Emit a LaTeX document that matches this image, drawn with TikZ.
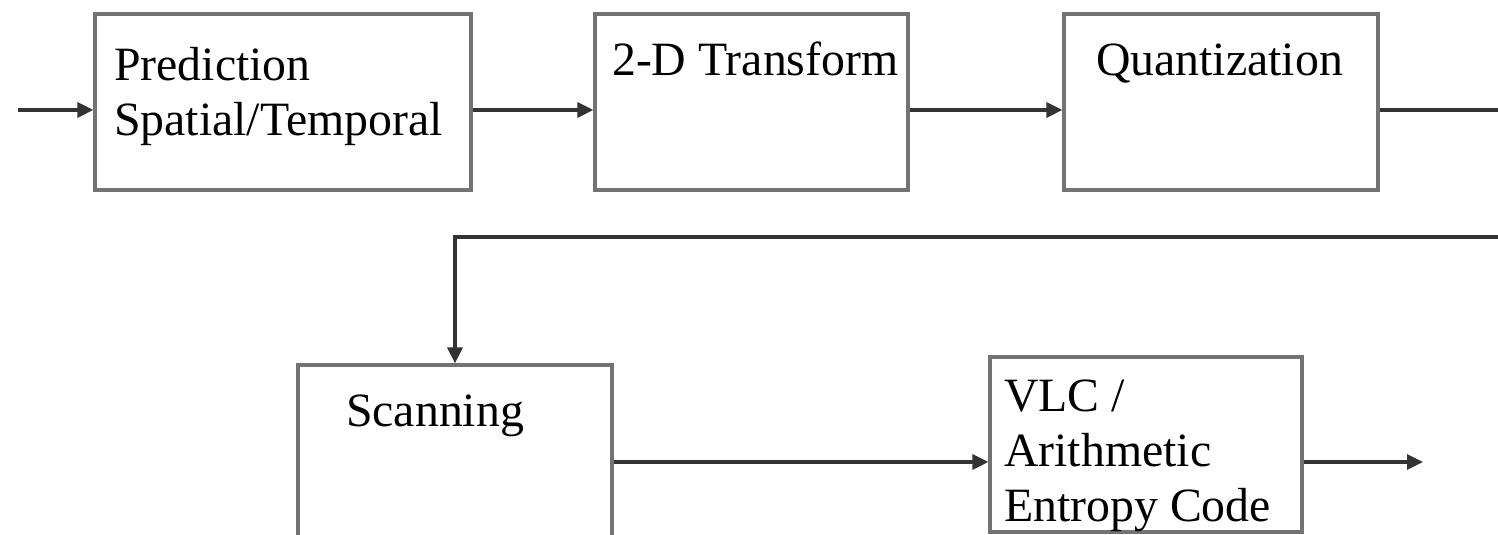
\documentclass[tikz,border=0pt]{standalone}
\usepackage{fontspec}
\setmainfont{Liberation Serif}
\usetikzlibrary{positioning,arrows.meta}

\begin{document}
\begin{tikzpicture}[blocknode/.style={rectangle,draw=black!55,line width=0.9pt,fill=white,inner sep=0pt},
		textnode/.style={inner sep=0pt,align=left,font=\fontsize{13.6}{15.6}\selectfont},
		flowline/.style={draw=black!80,line width=0.9pt,-{Triangle[length=1.6mm,width=1.5mm]}}]
		\useasboundingbox (0,0) rectangle (14.98,-5.35);
		\clip (0,0) rectangle (14.98,-5.35);

		\node[blocknode,minimum width=3.76cm,minimum height=1.76cm] 	(pred)	at (2.83,-1.02)		{};
		\node[blocknode,minimum width=3.13cm,minimum height=1.76cm] 	(trans)	at (7.515,-1.02)	{};
		\node[blocknode,minimum width=3.14cm,minimum height=1.76cm] 	(quant)	at (12.21,-1.02)	{};
		\node[blocknode,minimum width=3.14cm,minimum height=2.40cm] 	(scan)	at (4.55,-4.85)		{};
		\node[blocknode,minimum width=3.12cm,minimum height=1.75cm] 	(vlc)	at (11.46,-4.445)	{};

		% base anchor sits on the last line
		\node[textnode,anchor=base west] (predtext)	at ([shift={(0.20,-1.23)}]pred.north west)	{Prediction\\Spatial/Temporal};
		\node[textnode,anchor=base west] (transtext)	at ([shift={(0.18,-0.63)}]trans.north west)	{2-D Transform};
		\node[textnode,anchor=base west] (quanttext)	at ([shift={(0.33,-0.63)}]quant.north west)	{Quantization};
		\node[textnode,anchor=base west] (scantext)	at ([shift={(0.49,-0.63)}]scan.north west)	{Scanning};
		\node[textnode,anchor=base west] (vlctext)	at ([shift={(0.15,-1.66)}]vlc.north west)	{VLC /\\Arithmetic\\Entropy Code};

		\coordinate (in)	at (0.18,-1.10);
		\coordinate (out)	at (14.23,-4.62);
		\coordinate (wrap)	at (15.30,-2.37);

		\draw[flowline] (in) -- (in -| pred.west);
		\draw[flowline] (in -| pred.east) -- (in -| trans.west);
		\draw[flowline] (in -| trans.east) -- (in -| quant.west);
		\draw[flowline] (in -| quant.east) -| (wrap) -| (scan.north);
		\draw[flowline] (out -| scan.east) -- (out -| vlc.west);
		\draw[flowline] (out -| vlc.east) -- (out);
	\end{tikzpicture}
\end{document}
